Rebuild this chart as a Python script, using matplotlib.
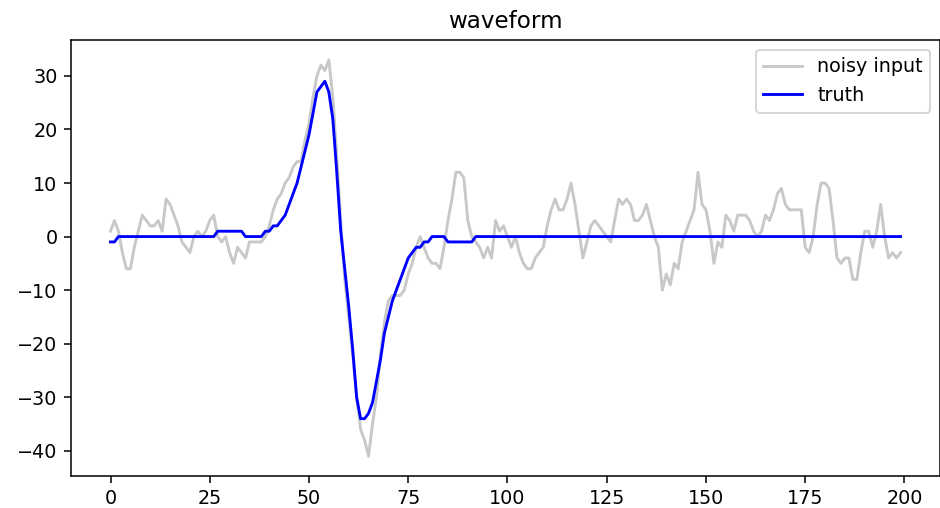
import matplotlib
matplotlib.use("Agg")
import matplotlib.pyplot as plt
import numpy as np

# sample index
x_idx = list(range(200))

# noisy input
noisy = [1, 3, 1, -3, -6, -6, -2, 1, 4, 3,
         2, 2, 3, 1, 7, 6, 4, 2, -1, -2,
         -3, 0, 1, 0, 1, 3, 4, 0, -1, 0,
         -3, -5, -2, -3, -4, -1, -1, -1, -1, 0,
         2, 5, 7, 8, 10, 11, 13, 14, 14, 18,
         21, 26, 30, 32, 31, 33, 26, 15, 3, -8,
         -15, -22, -30, -36, -38, -41, -35, -30, -22, -16,
         -12, -11, -11, -11, -10, -7, -5, -2, 0, -2,
         -4, -5, -5, -6, -2, 3, 7, 12, 12, 11,
         3, 0, -1, -2, -4, -2, -4, 3, 1, 2,
         0, -2, 0, -3, -5, -6, -6, -4, -3, -2,
         2, 5, 7, 5, 5, 7, 10, 6, 1, -4,
         -1, 2, 3, 2, 1, 0, -1, 3, 7, 6,
         7, 6, 3, 3, 4, 6, 3, 0, -2, -10,
         -7, -9, -5, -6, -1, 1, 3, 5, 12, 6,
         5, 1, -5, -1, -2, 4, 3, 1, 4, 4,
         4, 3, 1, 0, 1, 4, 3, 5, 8, 9,
         6, 5, 5, 5, 5, -2, -3, 0, 6, 10,
         10, 9, 3, -4, -5, -4, -4, -8, -8, -3,
         1, 1, -2, 1, 6, 0, -4, -3, -4, -3]

# truth waveform
truth = [-1, -1, 0, 0, 0, 0, 0, 0, 0, 0,
         0, 0, 0, 0, 0, 0, 0, 0, 0, 0,
         0, 0, 0, 0, 0, 0, 0, 1, 1, 1,
         1, 1, 1, 1, 0, 0, 0, 0, 0, 1,
         1, 2, 2, 3, 4, 6, 8, 10, 13, 16,
         19, 23, 27, 28, 29, 27, 22, 12, 1, -6,
         -13, -21, -30, -34, -34, -33, -31, -27, -23, -18,
         -15, -12, -10, -8, -6, -4, -3, -2, -2, -1,
         -1, 0, 0, 0, 0, -1, -1, -1, -1, -1,
         -1, -1, 0, 0, 0, 0, 0, 0, 0, 0] + [0] * 100

fig = plt.figure(figsize=(940 / 138, 508 / 138), dpi=138)
ax = fig.add_axes([71 / 940, 1 - 476 / 508, 869 / 940, 436 / 508])
ax.plot(x_idx, noisy, color="#c8c8c8", lw=1.5, label="noisy input")
ax.plot(x_idx, truth, color="blue", lw=1.5, label="truth")
ax.set_title("waveform")
ax.legend(loc="upper right")
fig.savefig("out.png", dpi=138)
